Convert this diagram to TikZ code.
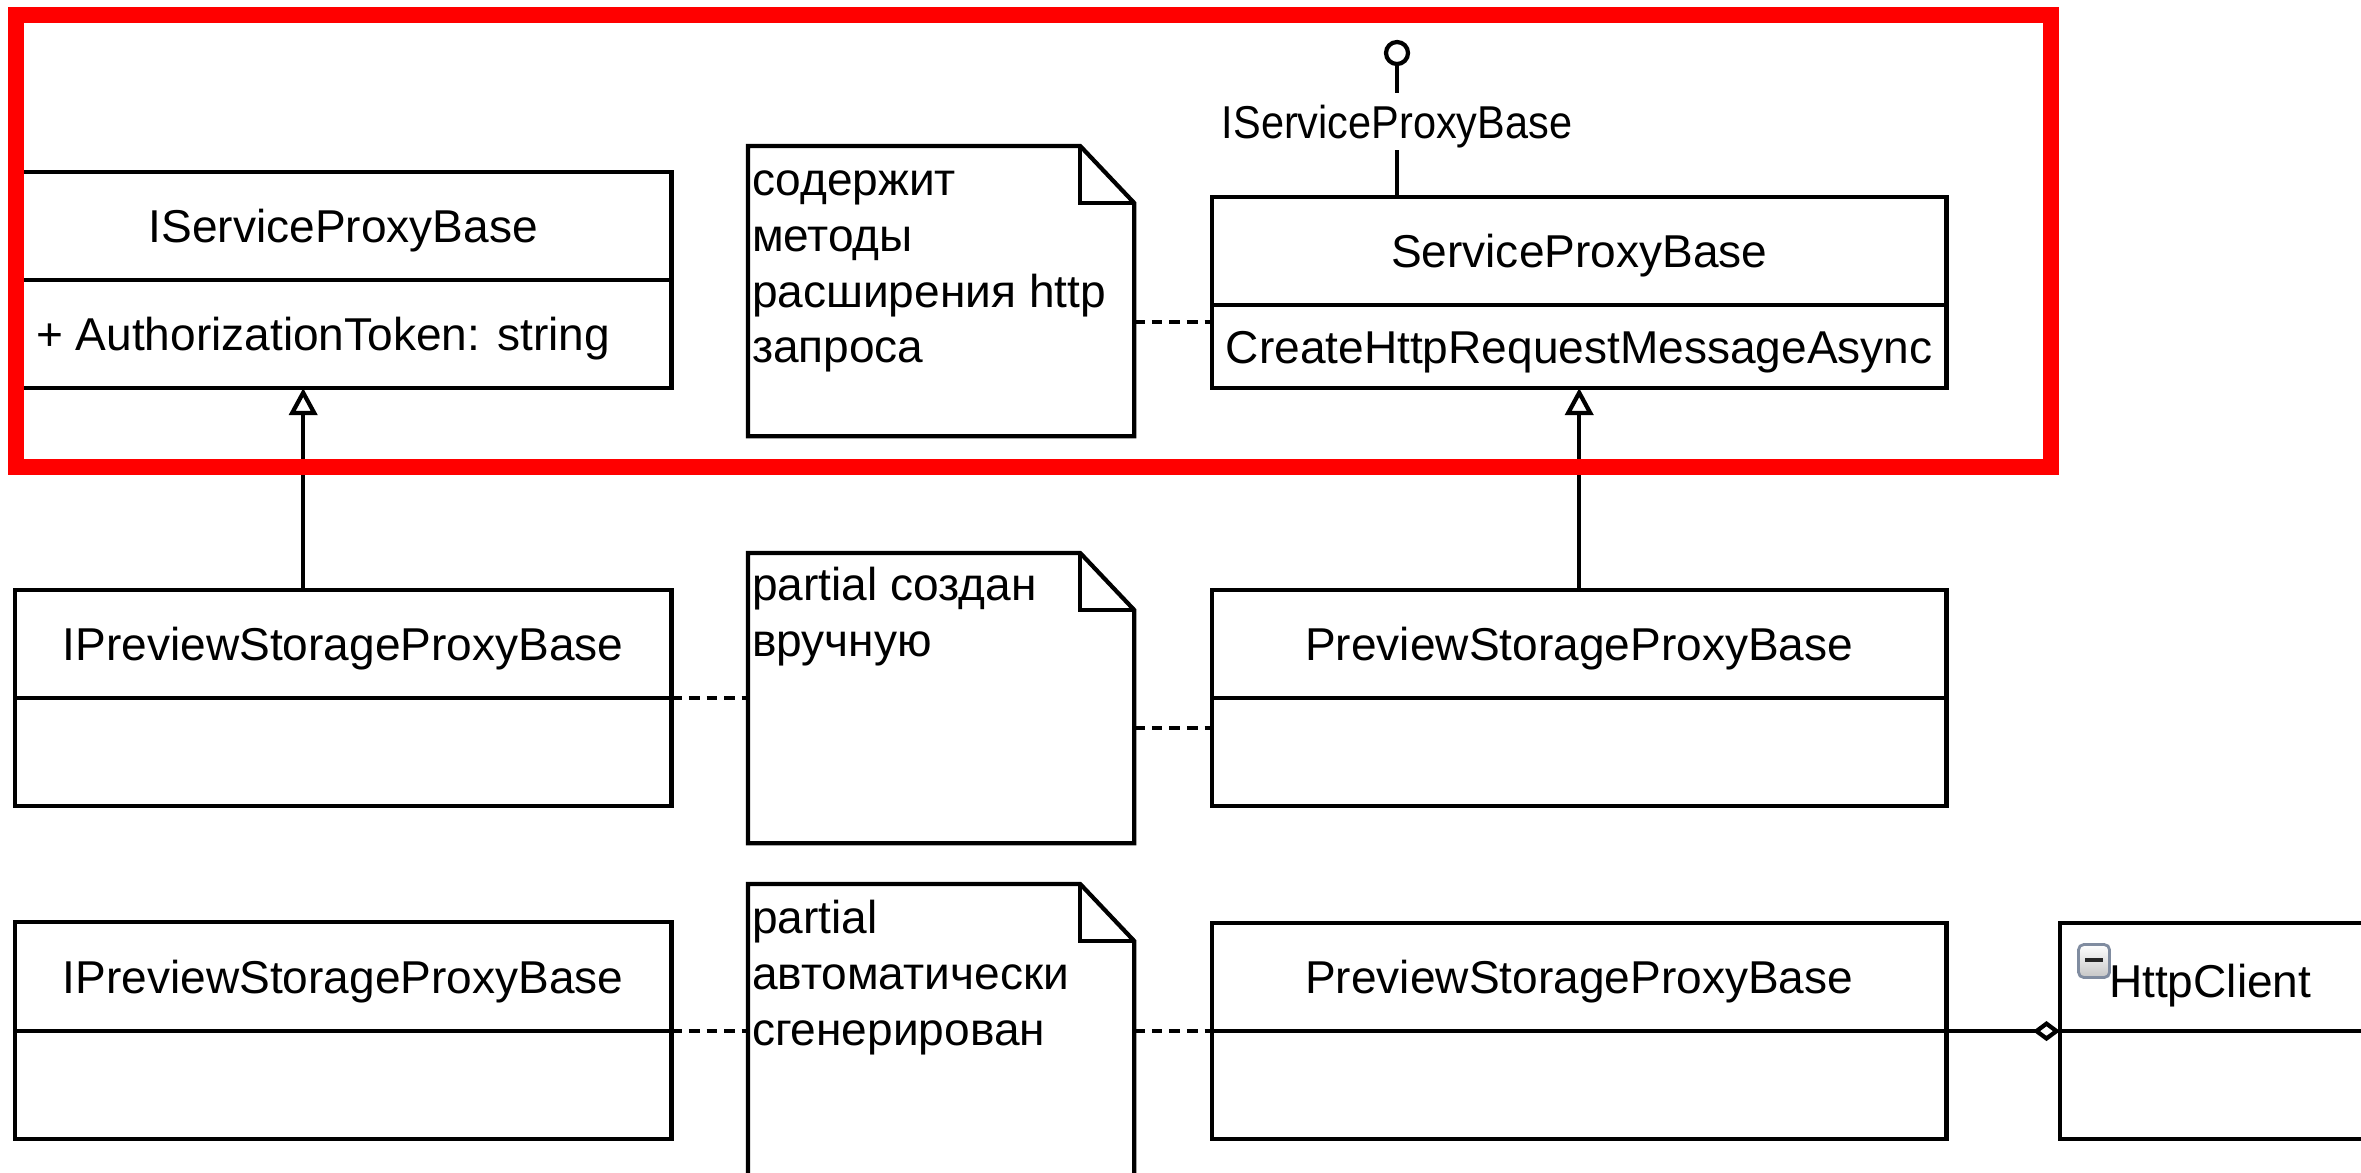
\documentclass[tikz,border=0pt]{standalone}
\usepackage{fontspec}
\setmainfont{Liberation Sans}
\usetikzlibrary{arrows.meta,calc}

\newcommand\umlfont{\fontsize{13.1pt}{15.8pt}\selectfont}
% outline of a UML note with a folded top-right corner
\newcommand\notefold[1]{%
  \draw[umlline] (#1.north west) -- ($(#1.north east)+(-54,0)$) -- ($(#1.north east)+(0,57)$)
     -- (#1.south east) -- (#1.south west) -- cycle;
  \draw[umlline] ($(#1.north east)+(-54,0)$) |- ($(#1.north east)+(0,57)$);}

\begin{document}
\begin{tikzpicture}[x=0.01cm, y=-0.01cm,
  umlline/.style={line width=1.2pt, draw=black},
  comp/.style={rectangle, draw=black, fill=white, line width=1.2pt, inner sep=0pt, outer sep=0pt,
               font=\umlfont, text height=9.4pt, text depth=0pt},
  txt/.style={inner sep=0pt, outer sep=0pt, font=\umlfont},
  notebox/.style={rectangle, inner sep=0pt, outer sep=0pt, minimum width=3.86cm},
  notetext/.style={inner sep=0pt, outer sep=0pt, align=left, font=\umlfont},
  dep/.style={line width=1.2pt, dash pattern=on 3pt off 2pt},
  gen/.style={line width=1.2pt, -{Triangle[open, length=7.7pt, width=8pt]}},
  agg/.style={line width=1.2pt, -{Diamond[open, length=7.7pt, width=5.7pt]}},
  icon/.style={rectangle, rounded corners=1.5pt, draw={rgb,255:red,128;green,140;blue,160},
               line width=0.8pt, top color=white, bottom color=gray!45,
               minimum width=0.31cm, minimum height=0.33cm, inner sep=0pt, outer sep=0pt},
  lwide/.style={minimum width=6.56cm},
  rwide/.style={minimum width=7.34cm}
]
\useasboundingbox (0,0) rectangle (2361,1172);
\clip (0,0) rectangle (2361,1172);
\fill[white] (0,0) rectangle (2361,1172);

% left column: interfaces
\node[comp, lwide, minimum height=1.08cm, anchor=north west] (c1L) at (15,172) {IServiceProxyBase};
\node[comp, lwide, minimum height=1.08cm, anchor=north] (m1L) at (c1L.south) {};
\node[txt, anchor=base west] (t1L) at ($(m1L.west)+(21,16.5)$) {+ AuthorizationToken: string};

\node[comp, lwide, minimum height=1.08cm, anchor=north west] (c2L) at (15,590) {IPreviewStorageProxyBase};
\node[comp, lwide, minimum height=1.08cm, anchor=north] (m2L) at (c2L.south) {};

\node[comp, lwide, minimum height=1.09cm, anchor=north west] (c3L) at (15,922) {IPreviewStorageProxyBase};
\node[comp, lwide, minimum height=1.08cm, anchor=north] (m3L) at (c3L.south) {};

% right column: classes
\node[comp, rwide, minimum height=1.08cm, anchor=north west] (c1R) at (1212,197) {ServiceProxyBase};
\node[comp, rwide, minimum height=0.83cm, anchor=north] (m1R) at (c1R.south) {CreateHttpRequestMessageAsync};

\node[comp, rwide, minimum height=1.08cm, anchor=north west] (c2R) at (1212,590) {PreviewStorageProxyBase};
\node[comp, rwide, minimum height=1.08cm, anchor=north] (m2R) at (c2R.south) {};

\node[comp, rwide, minimum height=1.08cm, anchor=north west] (c3R) at (1212,923) {PreviewStorageProxyBase};
\node[comp, rwide, minimum height=1.08cm, anchor=north] (m3R) at (c3R.south) {};

% HttpClient
\node[comp, minimum width=3.40cm, minimum height=1.08cm, anchor=north west] (cH) at (2060,923) {};
\node[comp, minimum width=3.40cm, minimum height=1.08cm, anchor=north] (mH) at (cH.south) {};
\node[icon] (hicon) at ($(cH.north west)+(34,38)$) {};
\draw[line width=1.3pt, draw=black!85] ($(hicon.center)+(-9,-1)$) -- ($(hicon.center)+(9,-1)$);
\node[txt, anchor=base west] (hname) at ($(cH.north west)+(49,74)$) {HttpClient};

% notes
\node[notebox, minimum height=2.90cm, anchor=north west] (note1) at (748,146) {};
\notefold{note1}
\node[notetext, anchor=north west] (note1txt) at ($(note1.north west)+(4,11)$)
  {\strut содержит\\методы\\расширения http\\запроса};

\node[notebox, minimum height=2.90cm, anchor=north west] (note2) at (748,553) {};
\notefold{note2}
\node[notetext, anchor=north west] (note2txt) at ($(note2.north west)+(4,9)$)
  {\strut partial создан\\вручную};

\node[notebox, minimum height=3.20cm, anchor=north west] (note3) at (748,884) {};
\notefold{note3}
\node[notetext, anchor=north west] (note3txt) at ($(note3.north west)+(4,11)$)
  {\strut partial\\автоматически\\сгенерирован};

% provided interface (lollipop)
\node[circle, draw, line width=1.2pt, minimum size=0.22cm, inner sep=0pt, outer sep=0pt] (lolli) at (1397,53) {};
\coordinate (lolliend) at (1397,93);
\draw[umlline] (lolli.south) -- (lolliend);
\node[txt, anchor=base] (ilabel) at (1397,138) {\scalebox{0.9}[1]{IServiceProxyBase}};
\coordinate (stub) at (1397,150);
\draw[umlline] (stub) -- (stub |- c1R.north);

% generalisations
\draw[gen] ($(c2L.north)+(-40,0)$) -- ($(m1L.south)+(-40,0)$);
\draw[gen] (c2R.north) -- (m1R.south);

% note anchors
\coordinate (m1Rdep) at ($(m1R.north west)+(0,17)$);
\draw[dep] (note1.east |- m1Rdep) -- (m1Rdep);
\draw[dep] (c2L.south east) -- (c2L.south east -| note2.west);
\coordinate (m2Rdep) at ($(m2R.north west)+(0,30)$);
\draw[dep] (note2.east |- m2Rdep) -- (m2Rdep);
\draw[dep] (c3L.south east) -- (c3L.south east -| note3.west);
\draw[dep] (note3.east |- c3R.south west) -- (c3R.south west);

% aggregation
\draw[agg] (c3R.south east) -- (cH.south west);

% highlight frame
\draw[red, line width=4.55pt] (16,15) rectangle (2051,467);
\end{tikzpicture}
\end{document}
